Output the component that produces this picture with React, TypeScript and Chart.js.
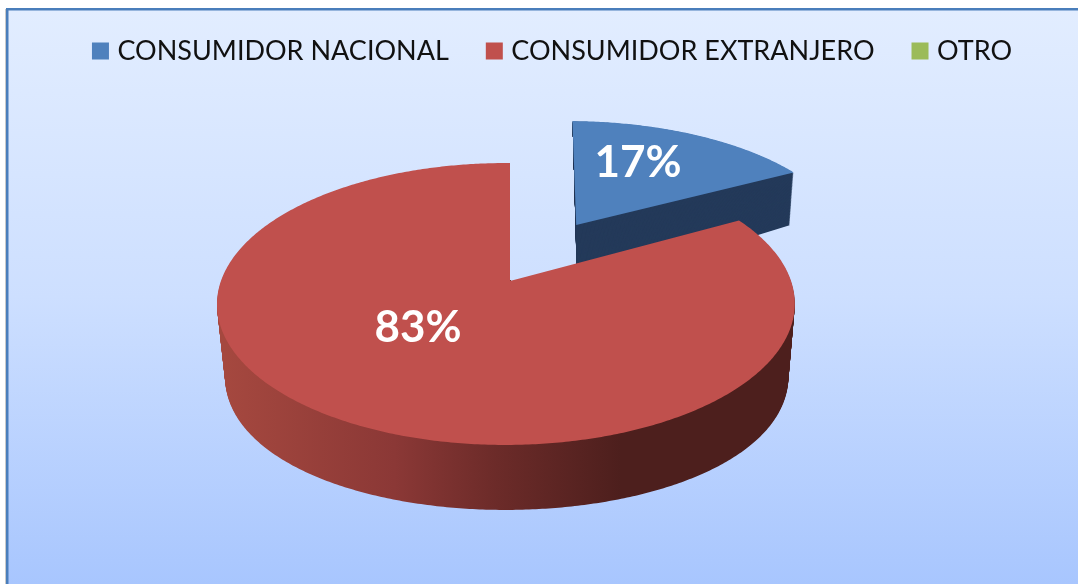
import React, { useEffect, useRef } from "react";
import { Chart, registerables } from "chart.js";

Chart.register(...registerables);

const categories = ["CONSUMIDOR NACIONAL", "CONSUMIDOR EXTRANJERO", "OTRO"];
const shares = [17, 83, 0];
const sliceColors = ["#4f81bd", "#c0504d", "#9bbb59"];
const wallColors = ["#243a5a", null, null];

const RADIUS = 100;
const EXPLODE = 0.49;

function project(u: number, v: number, lifted: boolean) {
  const w = 1 - 0.163 * v + 0.014 * u;
  const x = 510 + (285 * u) / w;
  const y = 281 + (137.2 * v) / w;
  if (!lifted) return { x, y };
  return { x: x + 0.05 * (225 - y) + 0.025 * (x - 576), y: y - 2 };
}
function drop(u: number, v: number, t: number, lifted: boolean) {
  const p = project(u, v, lifted);
  const d = 71.6 + 7.75 * v - 14.36 * v * v;
  const dx = lifted ? 1 - (p.x - 576) * 0.023 : -(p.x - 540) * 0.025;
  return { x: p.x + dx * t, y: p.y + d * t };
}

const LABEL_AT = [
  [638, 163],
  [418, 328],
];

const scene = {
  id: "scene",
  beforeDraw(chart: any) {
    const { ctx, width, height } = chart;
    ctx.save();
    ctx.fillStyle = "#ffffff";
    ctx.fillRect(0, 0, width, height);
    const g = ctx.createLinearGradient(0, 10, 0, height);
    g.addColorStop(0, "#e2edff");
    g.addColorStop(0.5, "#cddfff");
    g.addColorStop(1, "#a8c6fe");
    ctx.fillStyle = g;
    ctx.fillRect(7, 9, width, height);
    ctx.fillStyle = "#c9c9c9";
    ctx.fillRect(5, 9, 1, height);
    ctx.fillStyle = "#4a7ebb";
    ctx.fillRect(6, 8, width, 2.5);
    ctx.fillRect(6, 8, 2.5, height);
    ctx.restore();
  },
  beforeDatasetsDraw(chart: any) {
    const { ctx, width, height } = chart;
    const arcs = chart.getDatasetMeta(0).data;
    const redWall = ctx.createLinearGradient(225, 0, 790, 0);
    redWall.addColorStop(0, "#a5483f");
    redWall.addColorStop(0.3, "#8b3836");
    redWall.addColorStop(0.48, "#6c2b29");
    redWall.addColorStop(0.7, "#4d1f1d");
    redWall.addColorStop(1, "#4d1f1d");
    const total = shares.reduce((a, b) => a + b, 0);
    ctx.save();
    arcs.forEach((arc: any, i: number) => {
      const { startAngle, endAngle, outerRadius } = arc.getProps(["startAngle", "endAngle", "outerRadius"]);
      if (endAngle - startAngle <= 0) return;
      const mid = (startAngle + endAngle) / 2;
      const e = (arc.options.offset || 0) / 4 / outerRadius;
      const lifted = e > 0;
      const ou = e * Math.cos(mid);
      const ov = e * Math.sin(mid);
      const path = (t: number) => {
        ctx.beginPath();
        const a = drop(ou, ov, t, lifted);
        ctx.moveTo(a.x, a.y);
        const n = Math.ceil((endAngle - startAngle) / 0.01);
        for (let k = 0; k <= n; k++) {
          const ang = startAngle + ((endAngle - startAngle) * k) / n;
          const p = drop(ou + Math.cos(ang), ov + Math.sin(ang), t, lifted);
          ctx.lineTo(p.x, p.y);
        }
        ctx.closePath();
      };
      ctx.save();
      if (endAngle - startAngle > Math.PI) {
        // the wall must not show inside the wedge left open by the other slice
        const gapMid = mid + Math.PI;
        const pts = [
          project(0, 0, false),
          project(1.5 * Math.cos(endAngle), 1.5 * Math.sin(endAngle), false),
          project(3 * Math.cos(gapMid), 3 * Math.sin(gapMid), false),
          project(1.5 * Math.cos(startAngle), 1.5 * Math.sin(startAngle), false),
        ];
        ctx.beginPath();
        ctx.rect(0, 0, width, height);
        ctx.moveTo(pts[0].x, pts[0].y);
        pts.slice(1).forEach((p) => ctx.lineTo(p.x, p.y));
        ctx.closePath();
        ctx.clip("evenodd");
      }
      ctx.fillStyle = wallColors[i] || redWall;
      for (let s = 70; s > 0; s--) {
        path(s / 70);
        ctx.fill();
      }
      ctx.restore();
      ctx.fillStyle = arc.options.backgroundColor;
      path(0);
      ctx.fill();
    });
    ctx.fillStyle = "#ffffff";
    ctx.font = "bold 44px Lato";
    ctx.textAlign = "center";
    ctx.textBaseline = "middle";
    shares.forEach((s, i) => {
      if (!s) return;
      ctx.fillText(Math.round((s / total) * 100) + "%", LABEL_AT[i][0], LABEL_AT[i][1]);
    });
    ctx.restore();
    return false;
  },
};

export default function App() {
  const ref = useRef<HTMLCanvasElement>(null);
  useEffect(() => {
    document.body.style.margin = "0";
    const chart = new Chart(ref.current as HTMLCanvasElement, {
      type: "pie",
      data: {
        labels: categories,
        datasets: [
          {
            data: shares,
            backgroundColor: sliceColors,
            borderWidth: 0,
            offset: [EXPLODE * RADIUS * 4, 0, 0],
          },
        ],
      },
      options: {
        responsive: false,
        animation: false,
        radius: RADIUS,
        layout: { padding: { top: -4.5, left: 31 } },
        plugins: {
          tooltip: { enabled: false },
          legend: {
            position: "top",
            labels: {
              usePointStyle: true,
              pointStyle: "rect",
              boxWidth: 7,
              boxHeight: 17,
              padding: 42,
              color: "#111111",
              font: { family: "Lato", size: 27 },
            },
          },
        },
      },
      plugins: [scene],
    } as any);
    return () => chart.destroy();
  }, []);
  return <canvas ref={ref} width={1078} height={584} style={{ display: "block" }} />;
}
